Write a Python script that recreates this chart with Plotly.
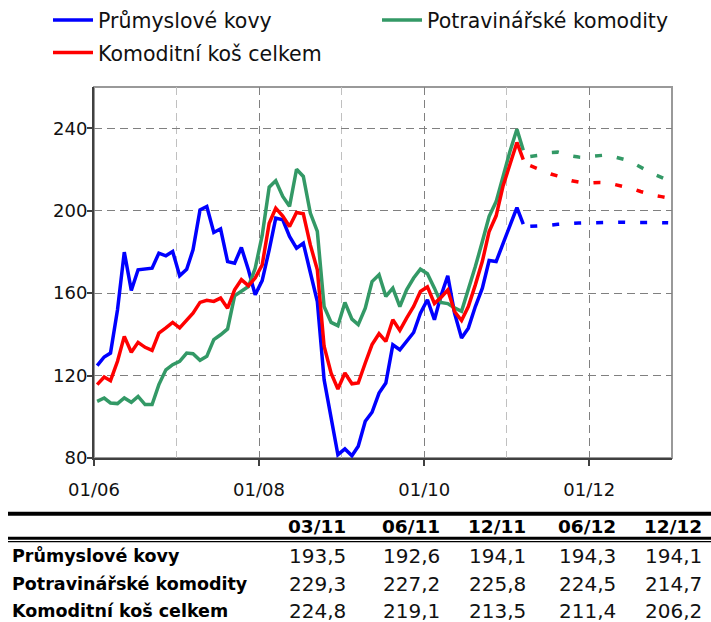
import pandas as pd
import plotly.graph_objects as go

# monthly data, 01/2006 - 03/2011 (skutečnost)
hist_months = pd.date_range("2006-01-01", "2011-03-01", freq="MS") + pd.Timedelta(days=14)
kovy = [124.8, 129.0, 130.9, 151.9, 179.9, 161.3, 171.3, 171.8, 172.1, 179.4,
        178.1, 180.2, 168.4, 171.6, 181.0, 200.4, 202.0, 189.4, 191.2, 175.3,
        174.5, 182.1, 171.3, 159.2, 166.1, 181.0, 196.4, 195.6, 187.5, 181.8,
        184.2, 170.0, 155.9, 118.0, 100.2, 81.6, 84.4, 81.1, 85.7, 97.8,
        102.2, 111.5, 116.4, 134.9, 132.5, 136.6, 140.9, 150.3, 156.8, 147.1,
        158.4, 168.4, 150.3, 138.2, 143.0, 153.5, 162.4, 175.8, 175.3, 183.9,
        192.3, 201.5, 193.5]
potraviny = [107.5, 109.1, 106.7, 106.4, 109.1, 107.0, 109.9, 105.9, 105.9, 115.6,
             122.8, 125.3, 126.9, 130.9, 130.6, 127.4, 129.3, 137.4, 139.8, 142.6,
             158.7, 160.8, 163.2, 172.0, 188.0, 211.4, 214.5, 206.9, 202.1, 220.1,
             216.6, 198.8, 189.9, 153.5, 145.8, 144.2, 155.5, 147.4, 144.7, 152.7,
             165.6, 168.9, 158.4, 162.4, 153.5, 161.6, 167.3, 171.6, 169.4, 162.4,
             155.5, 154.9, 152.8, 151.2, 161.6, 172.9, 185.0, 197.2, 204.4, 216.6,
             228.7, 239.5, 229.3]
kos = [115.6, 119.3, 117.5, 126.9, 139.0, 131.3, 136.1, 133.7, 132.2, 140.6,
       143.1, 145.8, 143.1, 146.8, 150.3, 155.5, 156.5, 156.0, 157.6, 152.7,
       161.6, 166.5, 163.6, 167.3, 173.7, 193.9, 201.2, 197.4, 192.3, 199.1,
       198.5, 183.4, 171.3, 134.2, 121.2, 113.5, 121.2, 116.0, 116.4, 126.1,
       135.0, 140.3, 136.6, 147.1, 141.9, 147.9, 153.5, 160.8, 163.0, 155.0,
       157.8, 161.5, 151.1, 146.7, 153.5, 164.0, 175.4, 189.9, 197.5, 211.7,
       222.2, 233.1, 224.8]

# forecast 04/2011 - 12/2012
fc_months = pd.date_range("2011-04-01", "2012-12-01", freq="MS") + pd.Timedelta(days=14)
kovy_fc = [192.4, 192.5, 192.6, 193.0, 193.4, 193.7, 193.9, 194.0, 194.1, 194.2,
           194.3, 194.5, 194.5, 194.4, 194.3, 194.4, 194.4, 194.3, 194.3, 194.2, 194.1]
potraviny_fc = [226.3, 226.8, 227.2, 228.2, 228.4, 227.5, 226.5, 226.0, 225.8, 226.4,
                226.9, 227.0, 226.3, 225.4, 224.5, 223.0, 221.0, 219.3, 217.6, 216.0, 214.7]
kos_fc = [221.8, 220.4, 219.1, 217.8, 216.8, 215.6, 214.5, 213.9, 213.5, 213.5,
          213.7, 213.6, 212.9, 212.1, 211.4, 210.5, 209.3, 208.2, 207.4, 206.8, 206.2]

# table under the chart
table_cols = ["03/11", "06/11", "12/11", "06/12", "12/12"]
table_rows = ["Průmyslové kovy", "Potravinářské komodity", "Komoditní koš celkem"]
table_vals = [["193,5", "192,6", "194,1", "194,3", "194,1"],
              ["229,3", "227,2", "225,8", "224,5", "214,7"],
              ["224,8", "219,1", "213,5", "211,4", "206,2"]]

FONT = "DejaVu Sans"
W, H = 711, 622
L, R, T, B = 94, 672, 87, 458.3


def px(x):
    return (x - L) / (R - L)


def py(y):
    return (B - y) / (B - T)


# name, history, forecast, colour, legend
series = [
    ("Průmyslové kovy", kovy, kovy_fc, "#0000ff", "legend"),
    ("Potravinářské komodity", potraviny, potraviny_fc, "#339966", "legend2"),
    ("Komoditní koš celkem", kos, kos_fc, "#ff0000", "legend"),
]

fig = go.Figure()
for name, hist, fc, col, leg in series:
    fig.add_trace(go.Scatter(x=hist_months, y=hist, name=name, mode="lines",
                             legend=leg, legendgroup=name,
                             line=dict(color=col, width=3.5)))
for name, hist, fc, col, leg in series:
    fig.add_trace(go.Scatter(x=fc_months, y=fc, name=name + " (prognóza)", mode="lines",
                             showlegend=False, legendgroup=name,
                             line=dict(color=col, width=3.5, dash="7px,15px")))

fig.update_xaxes(
    type="date", range=["2006-01-01", "2013-01-01"],
    tickvals=["2006-01-01", "2008-01-01", "2010-01-01", "2012-01-01"],
    ticktext=["01/06", "01/08", "01/10", "01/12"],
    ticks="outside", ticklen=6, tickcolor="#404040", tickwidth=1.5,
    showgrid=True, gridcolor="#808080", griddash="8px,5px", gridwidth=1,
    minor=dict(dtick="M12", tick0="2006-01-01", showgrid=True, gridcolor="#c0c0c0",
               griddash="8px,5px", gridwidth=1, ticks=""),
    showline=True, linecolor="#404040", linewidth=2,
    tickfont=dict(family=FONT, size=18, color="#111"),
    ticklabelstandoff=8,
)
fig.update_yaxes(
    range=[80, 260], tickvals=[80, 120, 160, 200, 240],
    ticks="outside", ticklen=5, tickcolor="#404040", tickwidth=1.5,
    showgrid=True, gridcolor="#808080", griddash="8px,5px", gridwidth=1,
    showline=True, linecolor="#404040", linewidth=2, zeroline=False,
    tickfont=dict(family=FONT, size=18, color="#111"),
    ticklabelstandoff=-4,
)

# grey frame (top / right)
fig.add_shape(type="rect", xref="paper", yref="paper", x0=0, x1=1, y0=0, y1=1,
              line=dict(color="#999999", width=2), layer="below")

# table
fig.add_shape(type="line", xref="paper", yref="paper", x0=px(8), x1=px(711),
              y0=py(514), y1=py(514), line=dict(color="black", width=4))
fig.add_shape(type="line", xref="paper", yref="paper", x0=px(8), x1=px(711),
              y0=py(538.5), y1=py(538.5), line=dict(color="black", width=3))
fig.add_shape(type="line", xref="paper", yref="paper", x0=px(8), x1=px(711),
              y0=py(542), y1=py(542), line=dict(color="black", width=1.3))

col_right = [348, 442, 528, 618, 704]
for c, xr in zip(table_cols, col_right):
    fig.add_annotation(text="<b>%s</b>" % c, xref="paper", yref="paper",
                       x=px(xr), y=py(527), xanchor="right", yanchor="middle",
                       showarrow=False, font=dict(family=FONT, size=18.5, color="black"))
row_y = [556, 584, 611]
for lab, vals, yy in zip(table_rows, table_vals, row_y):
    fig.add_annotation(text="<b>%s</b>" % lab, xref="paper", yref="paper",
                       x=px(10), y=py(yy), xanchor="left", yanchor="middle",
                       showarrow=False, font=dict(family=FONT, size=17.5, color="black"))
    for v, xr in zip(vals, col_right):
        fig.add_annotation(text=v, xref="paper", yref="paper",
                           x=px(xr), y=py(yy), xanchor="right", yanchor="middle",
                           showarrow=False, font=dict(family=FONT, size=20, color="#111"))

leg_style = dict(xanchor="left", yanchor="top", orientation="v",
                 font=dict(family=FONT, size=20.5, color="#111"),
                 bgcolor="rgba(0,0,0,0)", itemwidth=40, tracegroupgap=3)
fig.update_layout(
    width=W, height=H,
    margin=dict(l=L, r=W - R, t=T, b=H - B, pad=0, autoexpand=False),
    plot_bgcolor="white", paper_bgcolor="white",
    font=dict(family=FONT, color="#111"),
    showlegend=True,
    legend=dict(x=px(48), y=py(0), **leg_style),
    legend2=dict(x=px(377), y=py(0), **leg_style),
)

# no default page margin, so the figure sits at the window's corner
fig.write_html("out.html", config={"displayModeBar": False},
               post_script="document.body.style.margin='0';")
